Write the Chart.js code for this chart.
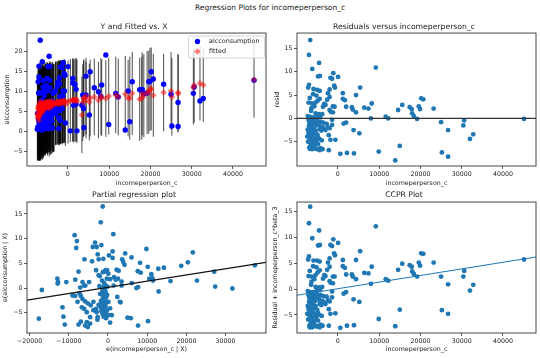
<!DOCTYPE html>
<html>
<head>
<meta charset="utf-8">
<script src="https://cdn.jsdelivr.net/npm/chart.js@4.4.1/dist/chart.umd.min.js"></script>
<style>
body { margin: 0; background: #fff; }
#fig { position: relative; width: 540px; height: 358px; overflow: hidden; font-family: 'DejaVu Sans', sans-serif; }
#suptitle { position: absolute; left: 0; top: 0; width: 540px; text-align: center; font-size: 7.5px; line-height: 15px; color: #222; }
canvas { position: absolute; }
</style>
</head>
<body>
<div id="fig">
	<div id="suptitle">Regression Plots for incomeperperson_c</div>
	<canvas id="fitChart" width="270" height="175" style="left:0;top:15px"></canvas>
	<canvas id="residChart" width="270" height="175" style="left:270px;top:15px"></canvas>
	<canvas id="partialChart" width="270" height="173" style="left:0;top:185px"></canvas>
	<canvas id="ccprChart" width="270" height="173" style="left:270px;top:185px"></canvas>
</div>
<script>
// incomeperperson_c, one entry per country (shared by the fit, residual and CCPR panels)
const incomeX = [-6700,-7000,-6200,-4550,-4350,-4800,-1800,-1100,50,9200,
	-7000,-7200,-5900,-5000,-4400,-2000,-900,-700,1200,4400,
	5400,-6000,-4400,-4900,-2000,1200,1700,-7100,-6300,-5400,
	-3600,-3000,-1200,-800,2000,3400,3600,6400,7400,8200,
	4400,-6500,-5400,-1700,-1200,-2000,-4600,-3800,-7300,11600,
	12200,14600,15600,17400,17900,18000,18400,19200,19600,19900,
	20200,20700,23200,8000,25000,30600,30400,26700,32800,32000,
	45100,25200,26700,13900,15000,9900,5200,3800,600,2200,
	3900,-600,-1800,-2200,1400,2000,-2200,-1400,-2000,-3500,
	-3000,-5000,-4900,-4800,-4200,-5000,-6200,-6800,-6600,-7200,
	-7400,-7300,-4200,-3500,-2700,-3800,-1400,-4500,-2400,-4000,
	-7100,-6900,-6700,-6500,-6300,-6900,-7100,-6600,-6400,-6800,
	-6200,-6500,-6900,-6100,-5800,-5600,-5300,-5900,-5700,-5500,
	-5300,-5900,-6100,-6700,-5600,-5100,-6000,-6200,-6600,-7000,
	-5400,-5200,-6000,-6300,-5800,-6800,-5400,-4700,-4400,-4500,
	-3900,-3700,-4400,-6500,-5000,-4300,-6400,-5700,-6800,-5200,
	-3300,-2600,-2400,-1400];

const alcY = [22.9,16.4,17.5,18.9,16.3,16.3,16.2,17.3,16.3,19.2,
	13.7,12.5,12.8,13.3,12.9,13.5,14.6,14.1,13.3,13.9,
	15.0,11.2,11.0,10.2,12.0,12.2,11.8,9.7,9.8,10.3,
	9.6,10.1,10.2,10.2,10.6,6.6,9.2,11.0,10.0,11.7,
	9.2,7.1,7.3,8.8,8.8,8.8,7.4,7.7,4.6,9.6,
	8.7,10.2,12.5,10.5,10.4,10.6,9.5,9.7,12.5,12.6,
	15.0,13.2,11.9,8.8,9.4,11.2,9.6,7.3,8.3,7.7,
	12.9,1.4,1.3,0.4,2.5,1.8,4.2,5.8,0.2,0.2,
	1.0,2.2,2.8,3.5,6.6,6.9,0.8,5.8,5.2,4.8,
	4.5,3.2,2.1,1.5,1.1,0.8,0.4,0.8,0.7,0.6,
	0.6,1.1,5.5,6.0,5.9,4.8,7.2,4.3,5.3,3.8,
	3.1,3.2,3.4,3.3,2.8,1.6,1.0,1.8,1.6,0.8,
	1.3,1.2,0.6,0.9,1.5,0.9,0.9,3.0,3.8,4.5,
	5.5,5.0,5.2,4.7,6.0,6.4,4.4,3.1,4.2,2.3,
	2.5,2.0,2.4,4.4,4.6,2.4,4.1,5.9,4.4,2.7,
	2.6,0.9,0.8,1.0,7.3,7.4,7.9,9.0,9.7,11.6,
	10.1,11.3,12.4,16.0];

const fittedY = [6.1,2.8,6.9,7.0,7.2,7.3,7.5,7.6,7.4,8.3,
	6.5,5.9,6.5,7.2,7.0,7.3,7.6,7.5,7.9,8.9,
	8.4,6.0,6.8,6.4,7.4,8.0,7.9,6.3,6.6,6.9,
	7.1,7.2,7.6,7.7,8.1,4.2,7.3,8.7,7.9,8.5,
	7.9,5.5,6.2,7.4,7.5,7.0,6.5,6.8,4.1,9.2,
	8.7,8.4,9.6,8.1,8.4,9.5,9.0,9.8,9.9,10.6,
	10.7,9.1,9.8,8.8,10.2,11.6,11.1,9.8,11.7,12.1,
	13.0,8.7,9.5,9.4,8.4,8.9,7.4,8.3,7.8,7.6,
	8.5,6.8,7.4,7.1,7.7,7.8,7.6,7.2,7.3,6.9,
	7.0,6.6,6.0,7.0,7.5,7.4,7.0,7.3,6.6,5.6,
	4.5,3.5,6.2,6.9,7.1,6.6,7.5,5.8,7.2,6.4,
	3.4,4.0,4.7,5.2,5.0,4.3,4.1,5.3,5.6,5.2,
	6.1,6.5,6.8,6.9,7.1,7.2,7.4,6.0,6.3,6.1,
	6.4,5.4,5.0,4.4,5.9,6.6,5.6,5.9,4.8,3.9,
	6.9,7.0,6.2,5.3,6.3,4.6,6.7,6.9,6.7,7.1,
	7.3,7.5,7.6,7.5,6.8,7.0,5.7,6.4,5.3,6.7,
	7.0,7.3,7.0,7.5];

// prediction interval ends (the black vertical lines)
const predLo = [-5.9,-7.2,-5.1,-5.0,-4.8,-4.7,-2.9,-2.8,-3.0,-1.3,
	-5.5,-6.1,-5.5,-4.8,-5.0,-3.1,-2.8,-2.9,-2.5,-0.7,
	-1.2,-6.0,-5.2,-5.6,-3.0,-2.4,-2.5,-5.7,-5.4,-5.1,
	-4.9,-3.2,-2.8,-2.7,-2.3,-5.4,-2.3,-0.9,-1.7,-1.1,
	-1.7,-6.5,-5.8,-3.0,-2.9,-3.4,-5.5,-5.2,-7.2,-0.4,
	-0.9,-1.2,-0.8,-2.3,-2.0,-0.9,-1.4,-0.6,-0.5,0.2,
	0.3,-1.3,0.1,-0.8,0.5,2.3,1.8,0.1,2.4,2.8,
	3.5,-1.0,-0.2,-0.2,-2.0,-0.7,-2.2,-1.3,-2.6,-2.8,
	-1.1,-3.6,-3.0,-3.3,-2.7,-2.6,-2.8,-3.2,-3.1,-5.1,
	-3.4,-5.4,-6.0,-5.0,-4.5,-4.6,-5.0,-4.7,-5.4,-6.4,
	-7.2,-7.2,-5.8,-5.1,-3.3,-5.4,-2.9,-6.2,-3.2,-5.6,
	-7.2,-7.2,-7.2,-6.8,-7.0,-7.2,-7.2,-6.7,-6.4,-6.8,
	-5.9,-5.5,-5.2,-5.1,-4.9,-4.8,-4.6,-6.0,-5.7,-5.9,
	-5.6,-6.6,-7.0,-7.2,-6.1,-5.4,-6.4,-6.1,-7.2,-7.2,
	-5.1,-5.0,-5.8,-6.7,-5.7,-7.2,-5.3,-5.1,-5.3,-4.9,
	-4.7,-4.5,-4.4,-4.5,-5.2,-5.0,-6.3,-5.6,-6.7,-5.3,
	-5.0,-3.1,-3.4,-2.9];

const predHi = [16.1,12.8,16.9,17.0,17.2,17.3,17.9,18.0,17.8,17.9,
	16.5,15.9,16.5,17.2,17.0,17.7,18.0,17.9,18.3,18.5,
	18.0,16.0,16.8,16.4,17.8,18.4,18.3,16.3,16.6,16.9,
	17.1,17.6,18.0,18.1,18.5,13.8,16.9,18.3,17.5,18.1,
	17.5,15.5,16.2,17.8,17.9,17.4,16.5,16.8,14.1,18.8,
	18.3,18.0,20.0,18.5,18.8,19.9,19.4,20.2,20.3,21.0,
	21.1,19.5,19.5,18.4,19.9,20.9,20.4,19.5,21.0,21.4,
	22.5,18.4,19.2,19.0,18.8,18.5,17.0,17.9,18.2,18.0,
	18.1,17.2,17.8,17.5,18.1,18.2,18.0,17.6,17.7,16.9,
	17.4,16.6,16.0,17.0,17.5,17.4,17.0,17.3,16.6,15.6,
	14.5,13.5,16.2,16.9,17.5,16.6,17.9,15.8,17.6,16.4,
	13.4,14.0,14.7,15.2,15.0,14.3,14.1,15.3,15.6,15.2,
	16.1,16.5,16.8,16.9,17.1,17.2,17.4,16.0,16.3,16.1,
	16.4,15.4,15.0,14.4,15.9,16.6,15.6,15.9,14.8,13.9,
	16.9,17.0,16.2,15.3,16.3,14.6,16.7,16.9,16.7,17.1,
	17.3,17.5,17.6,17.5,16.8,17.0,15.7,16.4,15.3,16.7,
	17.0,17.7,17.4,17.9];

const residY = [16.8,13.6,10.6,11.9,9.1,9.0,8.7,9.7,8.9,10.9,
	7.2,6.6,6.3,6.1,5.9,6.2,7.0,6.6,5.4,5.0,
	6.6,5.2,4.2,3.8,4.6,4.2,3.9,3.4,3.2,3.4,
	2.5,2.9,2.6,2.5,2.5,2.4,1.9,2.3,2.1,3.2,
	1.3,1.6,1.1,1.4,1.3,1.8,0.9,0.9,0.5,0.4,
	0.0,1.8,2.9,2.4,2.0,1.1,0.5,-0.1,2.6,2.0,
	4.3,4.1,2.1,0.0,-0.8,-0.4,-1.5,-2.5,-3.4,-4.4,
	-0.1,-7.3,-8.2,-9.0,-5.9,-7.1,-3.2,-2.5,-7.6,-7.4,
	-7.5,-4.6,-4.6,-3.6,-1.1,-0.9,-6.8,-1.4,-2.1,-2.1,
	-2.5,-3.4,-3.9,-5.5,-6.4,-6.6,-6.6,-6.5,-5.9,-5.0,
	-3.9,-2.4,-0.7,-0.9,-1.2,-1.8,-0.3,-1.5,-1.9,-2.6,
	-0.3,-0.8,-1.3,-1.9,-2.2,-2.7,-3.1,-3.5,-4.0,-4.4,
	-4.8,-5.3,-6.2,-6.0,-5.6,-6.3,-6.5,-3.0,-2.5,-1.6,
	-0.9,-0.4,0.2,0.3,0.1,-0.2,-1.2,-2.8,-0.6,-1.6,
	-4.4,-5.0,-3.8,-0.9,-1.7,-2.2,-2.6,-1.0,-2.3,-4.4,
	-4.7,-6.6,-6.8,-6.5,0.5,0.4,2.2,2.6,4.4,4.9,
	3.1,4.0,5.4,8.5];

const ccprY = [15.9,12.7,9.8,11.3,8.5,8.4,8.5,9.6,8.9,12.1,
	6.3,5.7,5.5,5.5,5.3,5.9,6.9,6.5,5.6,5.6,
	7.3,4.4,3.6,3.2,4.3,4.4,4.1,2.5,2.4,2.7,
	2.0,2.5,2.4,2.4,2.8,2.8,2.4,3.1,3.0,4.3,
	1.9,0.8,0.4,1.2,1.1,1.5,0.3,0.4,-0.4,1.9,
	1.6,3.7,4.9,4.6,4.3,3.4,2.9,2.4,5.1,4.5,
	6.9,6.8,5.1,1.0,2.4,3.5,2.4,0.9,0.8,-0.3,
	5.7,-4.1,-4.8,-7.2,-4.0,-5.8,-2.5,-2.0,-7.5,-7.1,
	-7.0,-4.7,-4.8,-3.9,-0.9,-0.6,-7.1,-1.6,-2.4,-2.5,
	-2.9,-4.0,-4.5,-6.1,-6.9,-7.2,-7.4,-7.4,-6.7,-5.9,
	-4.8,-3.3,-1.2,-1.4,-1.5,-2.3,-0.5,-2.1,-2.2,-3.1,
	-1.2,-1.7,-2.2,-2.7,-3.0,-3.6,-4.0,-4.3,-4.8,-5.3,
	-5.6,-6.1,-7.1,-6.8,-6.3,-7.0,-7.2,-3.8,-3.2,-2.3,
	-1.6,-1.2,-0.6,-0.6,-0.6,-0.9,-2.0,-3.6,-1.4,-2.5,
	-5.1,-5.7,-4.6,-1.7,-2.4,-3.1,-3.3,-1.6,-2.9,-5.0,
	-5.2,-7.1,-7.4,-7.3,-0.1,-0.2,1.4,1.9,3.5,4.2,
	2.7,3.7,5.1,8.3];

// partial regression: e(incomeperperson_c | X) and e(alcconsumption | X)
const partialX = [-1340,-1850,-8510,-7920,-8090,1360,-3290,-3880,-2870,-1690,
	-2620,-4050,-2370,-6000,-1180,250,1180,1180,3630,4390,
	4220,3880,6000,9800,8190,10140,7600,8360,12830,14260,
	11060,11320,10560,11490,18680,20370,21630,15950,22700,27090,
	27340,31730,37470,12910,7680,7250,6080,3460,3460,1530,
	2210,2720,-12900,-12820,-12740,-10620,-8340,-7500,-7080,-5770,
	-16870,-17630,-11610,-11350,-11010,-9060,-8390,-7760,-7250,-6670,
	-7500,-6920,-5820,-5400,-5150,-4560,-2700,-2620,-3040,-3710,
	120,540,540,960,3040,4980,5820,7680,10220,2380,
	-3040,-2370,-250,-930,90,510,1950,1440,2550,-4810,
	-6490,-6080,-6920,-6490,-5820,-5150,-4390,-6080,-5400,-3710,
	-4560,-2870,120,3210,
	-1500,-1000,-700,-1200,-800,-1400,-600,-1000,-1600,-900,
	-500,-1300,-700,-1100,-400,-1500,-900,-600,-1200,-800,
	-300,-1000,-1400,-700,-1100,-500,-1800,-2000,-1900,-200,
	-100,-2200,-300,-1700,-2400,-600,-1300,-2100];

const partialY = [16.5,13.3,10.7,9.5,8.1,10.9,9.2,8.3,8.3,8.7,
	6.8,5.4,5.8,5.8,5.9,6.6,7.4,6.1,5.8,7.0,
	4.7,5.3,6.2,7.9,5.1,4.3,3.4,3.1,3.9,4.1,
	2.8,2.0,1.9,1.5,4.5,5.2,7.2,1.4,1.5,3.3,
	0.3,-0.1,4.6,-0.7,0.2,0.0,1.0,0.5,1.3,2.2,
	3.7,3.5,1.9,0.9,1.2,1.2,1.7,3.3,0.1,0.5,
	-0.4,-6.2,-3.9,-5.8,-7.4,-1.5,-1.6,-2.8,-1.1,-3.9,
	-7.4,-6.8,-7.6,-6.9,-7.9,-7.2,-6.4,-5.9,-4.2,-2.8,
	-5.5,-4.1,-7.0,-5.5,-2.8,-6.0,-6.1,-7.6,-6.7,-1.8,
	3.6,2.6,3.6,3.3,2.9,1.8,1.7,0.5,1.9,1.2,
	1.2,0.5,-1.6,-2.2,-2.7,-3.1,-3.5,-4.2,-4.9,-4.5,
	-5.9,-4.9,-2.8,-2.9,
	1.5,1.0,0.6,0.2,-0.2,-0.5,-0.8,-1.1,-1.3,-1.6,
	-1.9,-2.1,-2.4,-2.7,-3.0,-3.2,-3.5,-3.8,-4.0,-4.3,
	-4.6,-4.9,-5.2,-5.5,-5.8,-6.1,-2.6,-1.2,-3.8,-1.4,
	0.3,0.4,1.9,-4.6,-3.4,3.6,3.2,2.4];

// fitted lines, read at the axis edges
const partialFitX = [-20650, 40300];
const partialFitY = [-2.45, 5.2];
const ccprFitX = [-9900, 48000];
const ccprFitY = [-1.22, 6.18];

// tick labels
const incomeTicks = [0, 10000, 20000, 30000, 40000];
const partialXTicks = [-20000, -10000, 0, 10000, 20000, 30000];
const fitYTicks = [-5, 0, 5, 10, 15, 20];
const residYTicks = [-5, 0, 5, 10, 15];

const C0 = '#1f77b4';
Chart.defaults.font.family = "'DejaVu Sans', sans-serif";
Chart.defaults.color = '#222';

const pts = (xs, ys) => xs.map((x, i) => ({ x: x, y: ys[i] }));
const fmtTick = (v) => (v < 0 ? '\u2212' + Math.abs(v) : String(v));

const framePlugin = {
	id: 'frame',
	afterDatasetsDraw(chart) {
		const a = chart.chartArea;
		const ctx = chart.ctx;
		ctx.save();
		ctx.strokeStyle = '#333';
		ctx.lineWidth = 0.9;
		ctx.strokeRect(a.left, a.top, a.right - a.left, a.bottom - a.top);
		ctx.restore();
	}
};

// legend box of the first panel, like matplotlib's upper right legend
const fitLegend = {
	id: 'fitLegend',
	afterDraw(chart) {
		const a = chart.chartArea;
		const ctx = chart.ctx;
		const w = 76, h = 22;
		const x0 = a.right - w - 1.5, y0 = a.top + 3;
		ctx.save();
		ctx.fillStyle = 'rgba(255,255,255,0.8)';
		ctx.strokeStyle = '#cccccc';
		ctx.lineWidth = 0.8;
		ctx.beginPath();
		ctx.roundRect(x0, y0, w, h, 2);
		ctx.fill();
		ctx.stroke();

		ctx.fillStyle = '#0000ff';
		ctx.beginPath();
		ctx.arc(x0 + 9, y0 + 5.5, 2.7, 0, Math.PI * 2);
		ctx.fill();

		ctx.fillStyle = 'rgba(255,0,0,0.5)';
		ctx.beginPath();
		ctx.moveTo(x0 + 9, y0 + 12.2);
		ctx.lineTo(x0 + 12.2, y0 + 15.4);
		ctx.lineTo(x0 + 9, y0 + 18.6);
		ctx.lineTo(x0 + 5.8, y0 + 15.4);
		ctx.closePath();
		ctx.fill();

		ctx.fillStyle = '#222';
		ctx.font = "6.4px 'DejaVu Sans'";
		ctx.textBaseline = 'middle';
		ctx.fillText('alcconsumption', x0 + 20.5, y0 + 5.5);
		ctx.fillText('fitted', x0 + 20.5, y0 + 15.4);
		ctx.restore();
	}
};

function axis(min, max, ticks, title, size, titlePad) {
	return {
		type: 'linear',
		min: min,
		max: max,
		afterBuildTicks: (s) => { s.ticks = ticks.map((v) => ({ value: v })); },
		afterFit: (s) => { if (s.isHorizontal()) { s.height = size; } else { s.width = size; } },
		grid: { drawOnChartArea: false, drawTicks: true, tickLength: 3, color: '#333', lineWidth: 0.8 },
		border: { display: false },
		ticks: { callback: fmtTick, padding: 1.5, autoSkip: false, maxRotation: 0, font: { size: 6.3 } },
		title: { display: true, text: title, font: { size: 6.3 }, padding: titlePad }
	};
}

function drawChart(id, title, titlePad, scales, datasets, extra) {
	return new Chart(document.getElementById(id), {
		type: 'scatter',
		data: { datasets: datasets },
		options: {
			responsive: false,
			animation: false,
			events: [],
			layout: { padding: { left: 0, right: 2, top: 0, bottom: 0 } },
			scales: scales,
			plugins: {
				legend: { display: false },
				tooltip: { enabled: false },
				title: { display: true, text: title, font: { size: 7.7, weight: 'normal' }, color: '#222', padding: titlePad }
			}
		},
		plugins: [framePlugin].concat(extra || [])
	});
}

const dots = (data, color, r, order) => ({
	data: data, backgroundColor: color, borderWidth: 0, pointRadius: r, order: order
});

// Y and fitted vs. X
const intervalSegs = [];
incomeX.forEach((x, i) => {
	intervalSegs.push({ x: x, y: predLo[i] }, { x: x, y: predHi[i] }, { x: x, y: null });
});
drawChart('fitChart', 'Y and Fitted vs. X', { top: 7.1, bottom: 1.7 }, {
	x: axis(-9900, 48000, incomeTicks, 'incomeperperson_c', 24, { top: 0, bottom: 3.2 }),
	y: axis(-8.6, 24.7, fitYTicks, 'alcconsumption', 27, { top: 3.4, bottom: 0 })
}, [
	{ data: pts(incomeX, fittedY), backgroundColor: 'rgba(255,0,0,0.5)', borderWidth: 0, pointRadius: 3.3, pointStyle: 'rectRot', order: 0 },
	dots(pts(incomeX, alcY), '#0000ff', 2.7, 1),
	{ type: 'line', data: intervalSegs, borderColor: 'rgba(0,0,0,0.7)', borderWidth: 1, pointRadius: 0, spanGaps: false, order: 2 }
], [fitLegend]);

// residuals
drawChart('residChart', 'Residuals versus incomeperperson_c', { top: 7.1, bottom: 1.7 }, {
	x: axis(-9900, 48000, incomeTicks, 'incomeperperson_c', 24, { top: 0, bottom: 3.2 }),
	y: axis(-10.2, 18.3, residYTicks, 'resid', 27, { top: 3.2, bottom: 0 })
}, [
	{ type: 'line', data: [{ x: -9900, y: 0 }, { x: 48000, y: 0 }], borderColor: '#333', borderWidth: 1.4, pointRadius: 0, order: 0 },
	dots(pts(incomeX, residY), C0, 2.4, 1)
]);

// partial regression
drawChart('partialChart', 'Partial regression plot', { top: 5.1, bottom: 2.7 }, {
	x: axis(-20650, 40300, partialXTicks, 'e(incomeperperson_c | X)', 25, { top: 0, bottom: 4.5 }),
	y: axis(-9.1, 17.4, residYTicks, 'e(alcconsumption | X)', 27, { top: 1.8, bottom: 0 })
}, [
	{ type: 'line', data: pts(partialFitX, partialFitY), borderColor: '#111', borderWidth: 1.1, pointRadius: 0, order: 0 },
	dots(pts(partialX, partialY), C0, 2.4, 1)
]);

// CCPR
drawChart('ccprChart', 'CCPR Plot', { top: 5.1, bottom: 2.7 }, {
	x: axis(-9900, 48000, incomeTicks, 'incomeperperson_c', 25, { top: 0, bottom: 4.5 }),
	y: axis(-8.5, 16.8, residYTicks, 'Residual + incomeperperson_c*beta_3', 27, { top: 2, bottom: 0 })
}, [
	{ type: 'line', data: pts(ccprFitX, ccprFitY), borderColor: C0, borderWidth: 1.1, pointRadius: 0, order: 0 },
	dots(pts(incomeX, ccprY), C0, 2.4, 1)
]);
</script>
</body>
</html>
